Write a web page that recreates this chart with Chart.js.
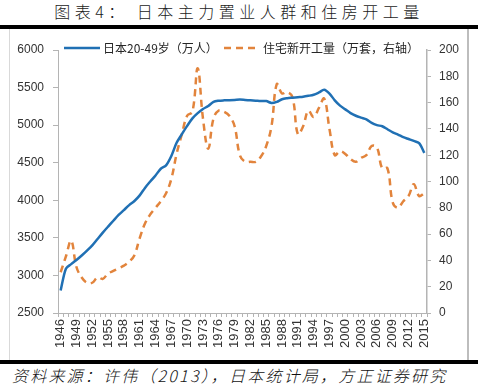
<!DOCTYPE html>
<html>
<head>
<meta charset="utf-8">
<script src="https://cdn.jsdelivr.net/npm/chart.js@4.4.1/dist/chart.umd.min.js"></script>
<style>
  body { margin: 0; width: 478px; height: 386px; background: #fff; position: relative; overflow: hidden; font-family: "Noto Sans CJK SC", sans-serif; }
  #title { position: absolute; top: 1px; left: 0; width: 478px; text-align: center; font-size: 16px; line-height: 20px; letter-spacing: 4.5px; color: #1a1a1a; font-weight: 300; }
  .rule { position: absolute; left: 0; width: 478px; height: 4px; background: #000; }
  #box { position: absolute; left: 9px; top: 29px; width: 457px; height: 331px; border-left: 1px solid #d9d9d9; border-right: 2px solid #bdbdbd; }
  #src { position: absolute; left: 12px; top: 364px; font-size: 16px; line-height: 22px; font-style: italic; font-weight: 300; letter-spacing: 2.2px; color: #111; white-space: nowrap; }
  canvas { position: absolute; left: 0; top: 0; }
</style>
</head>
<body>
<div id="title">图表4： 日本主力置业人群和住房开工量</div>
<div class="rule" style="top:25px"></div>
<div id="box"></div>
<div class="rule" style="top:360px"></div>
<div id="src">资料来源：许伟（2013），日本统计局，方正证券研究</div>
<canvas id="chart" width="478" height="386"></canvas>
<script>
const years = [
  '1946','1947','1948','1949','1950','1951','1952','1953','1954','1955',
  '1956','1957','1958','1959','1960','1961','1962','1963','1964','1965',
  '1966','1967','1968','1969','1970','1971','1972','1973','1974','1975',
  '1976','1977','1978','1979','1980','1981','1982','1983','1984','1985',
  '1986','1987','1988','1989','1990','1991','1992','1993','1994','1995',
  '1996','1997','1998','1999','2000','2001','2002','2003','2004','2005',
  '2006','2007','2008','2009','2010','2011','2012','2013','2014','2015'
];

// 日本20-49岁人口（万人），左轴
const population = [
  2800, 3090, 3150, 3205, 3265, 3330, 3400, 3485, 3570, 3650,
  3728, 3805, 3870, 3935, 3990, 4065, 4165, 4250, 4330, 4420,
  4465, 4590, 4765, 4880, 4990, 5090, 5160, 5215, 5255, 5310,
  5325, 5330, 5332, 5335, 5340, 5335, 5330, 5325, 5320, 5320,
  5295, 5310, 5345, 5358, 5365, 5372, 5378, 5390, 5405, 5435,
  5470, 5420, 5330, 5260, 5210, 5160, 5125, 5100, 5078, 5030,
  5000, 4985, 4945, 4905, 4875, 4840, 4815, 4790, 4760, 4630
];

// 住宅新开工量（万套），右轴
const housingStarts = [
  31, 43, 55, 35, 27, 23, 23, 27, 26, 30,
  32, 34, 36, 39, 44, 57, 68, 75, 80, 85,
  91, 102, 121, 136, 150, 153, 186, 148, 125, 148,
  154, 153, 150, 142, 120, 115, 115, 115, 119, 127,
  142, 174, 167, 168, 164, 136, 142, 154, 149, 156,
  163, 140, 120, 123, 121, 117, 115, 118, 120, 127,
  126, 110, 110, 84, 80, 85, 89, 98, 89, 91
];

const seriesNames = ['日本20-49岁（万人）', '住宅新开工量（万套，右轴）'];

const BLUE = '#2070b4';
const ORANGE = '#e2843c';
const AXIS = '#b4b4b4';
const tickFont = { family: 'Liberation Sans', size: 12 };

// legend drawn over the top of the plot, like the original
const topLegend = {
  id: 'topLegend',
  afterDraw(chart) {
    const ctx = chart.ctx;
    const y = 48;
    ctx.save();
    ctx.lineWidth = 2.5;
    ctx.strokeStyle = BLUE;
    ctx.beginPath(); ctx.moveTo(64, y); ctx.lineTo(100, y); ctx.stroke();
    ctx.strokeStyle = ORANGE;
    ctx.setLineDash([7, 5]);
    ctx.beginPath(); ctx.moveTo(224, y); ctx.lineTo(260, y); ctx.stroke();
    ctx.setLineDash([]);
    ctx.fillStyle = '#262626';
    ctx.font = '12px "Noto Sans CJK SC"';
    ctx.textBaseline = 'middle';
    ctx.fillText(seriesNames[0], 103, y);
    ctx.fillText(seriesNames[1], 263, y);
    ctx.restore();
  }
};

new Chart(document.getElementById('chart'), {
  type: 'line',
  data: {
    labels: years,
    datasets: [
      {
        label: seriesNames[0],
        data: population,
        yAxisID: 'y',
        borderColor: BLUE,
        borderWidth: 2.5,
        pointRadius: 0,
        tension: 0.3,
        fill: false,
      },
      {
        label: seriesNames[1],
        data: housingStarts,
        yAxisID: 'y1',
        borderColor: ORANGE,
        borderWidth: 2.5,
        borderDash: [7, 5],
        pointRadius: 0,
        tension: 0.4,
        fill: false,
      },
    ],
  },
  options: {
    responsive: false,
    animation: false,
    layout: { padding: { top: 50, left: 0, right: 0, bottom: 0 } },
    plugins: {
      legend: { display: false },
      tooltip: { enabled: false },
    },
    scales: {
      x: {
        offset: true,
        grid: { drawOnChartArea: false, drawTicks: true, tickLength: 4, color: AXIS, offset: true },
        border: { color: AXIS },
        ticks: {
          autoSkip: false,
          minRotation: 90,
          maxRotation: 90,
          padding: 2,
          color: '#333',
          font: { family: 'Liberation Sans', size: 13 },
          callback: (v, i) => (i % 3 === 0 ? years[i] : ''),
        },
        afterFit: (scale) => { scale.height = 73; },
      },
      y: {
        position: 'left',
        min: 2500,
        max: 6000,
        grid: { drawOnChartArea: false, tickLength: 5, color: AXIS },
        border: { color: AXIS },
        ticks: { stepSize: 500, padding: 9, color: '#333', font: tickFont, callback: (v) => String(v) },
        afterFit: (scale) => { scale.width = 58; },
      },
      y1: {
        position: 'right',
        min: 0,
        max: 200,
        grid: { drawOnChartArea: false, tickLength: 4, color: AXIS },
        border: { color: AXIS, width: 1.5 },
        ticks: { stepSize: 20, padding: 8, color: '#333', font: tickFont, callback: (v) => String(v) },
        afterFit: (scale) => { scale.width = 51; },
      },
    },
  },
  plugins: [topLegend],
});
</script>
</body>
</html>
